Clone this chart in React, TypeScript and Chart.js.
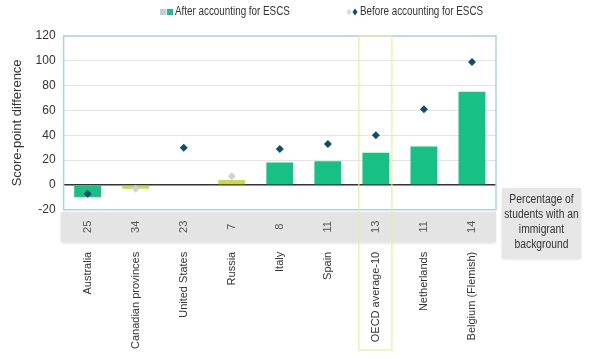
import React, { useEffect, useRef } from "react";
import { Chart, registerables } from "chart.js";

Chart.register(...registerables);

const countries = [
  "Australia",
  "Canadian provinces",
  "United States",
  "Russia",
  "Italy",
  "Spain",
  "OECD average-10",
  "Netherlands",
  "Belgium (Flemish)",
];
const immigrantPct = ["25", "34", "23", "7", "8", "11", "13", "11", "14"];
const afterESCS = [-10, -3, 0, 4, 18, 19, 26, 31, 75];
const afterSignificant = [true, false, true, false, true, true, true, true, true];
const beforeESCS = [-7, -3, 30, 7, 29, 33, 40, 61, 99];
const beforeSignificant = [true, false, true, false, true, true, true, true, true];
const yTicks = [-20, 0, 20, 40, 60, 80, 100, 120];
const highlightCategory = "OECD average-10";
const sideNote = ["Percentage of", "students with an", "immigrant", "background"];

const GREEN = "#17c084";
const LIME = "#c9dc45";
const DARK = "#0d4e6b";
const LIGHT = "#d2d2d2";
const FONT = "'Liberation Sans', Arial, sans-serif";

function condensedText(ctx: any, text: string, x: number, y: number, sx: number) {
  ctx.save();
  ctx.translate(x, y);
  ctx.scale(sx, 1);
  ctx.fillText(text, 0, 0);
  ctx.restore();
}

const decorPlugin = {
  id: "decor",
  afterDatasetsDraw(chart: any) {
    const { ctx, chartArea, scales } = chart;
    const x = scales.x;
    const y = scales.y;
    ctx.save();
    // plot border
    ctx.strokeStyle = "#a9d3e3";
    ctx.lineWidth = 1.5;
    ctx.strokeRect(chartArea.left, chartArea.top, chartArea.right - chartArea.left, chartArea.bottom - chartArea.top);
    // gray band with percentages
    const bandTop = chartArea.bottom + 2;
    const bandH = 30;
    ctx.shadowColor = "rgba(0,0,0,0.12)";
    ctx.shadowBlur = 3;
    ctx.shadowOffsetY = 2;
    ctx.fillStyle = "#e4e4e4";
    ctx.fillRect(chartArea.left - 3, bandTop, chartArea.right - chartArea.left + 3, bandH);
    ctx.shadowColor = "transparent";
    ctx.fillStyle = "#555";
    ctx.font = `11px ${FONT}`;
    ctx.textAlign = "center";
    ctx.textBaseline = "middle";
    immigrantPct.forEach((p, i) => {
      const cx = x.getPixelForValue(i);
      ctx.save();
      ctx.translate(cx, bandTop + bandH / 2);
      ctx.rotate(-Math.PI / 2);
      ctx.fillText(p, 0, 0);
      ctx.restore();
    });
    // side note box
    const boxTop = y.getPixelForValue(0) + 3;
    ctx.shadowColor = "rgba(0,0,0,0.12)";
    ctx.shadowBlur = 3;
    ctx.shadowOffsetY = 2;
    ctx.fillStyle = "#e6e6e6";
    ctx.fillRect(chartArea.right + 6, boxTop, 79, 70);
    ctx.shadowColor = "transparent";
    ctx.fillStyle = "#333";
    ctx.font = `12px ${FONT}`;
    sideNote.forEach((t, i) => {
      condensedText(ctx, t, chartArea.right + 6 + 39.5, boxTop + 12 + i * 15, 0.86);
    });
    // highlight rectangle
    const hi = countries.indexOf(highlightCategory);
    const hc = x.getPixelForValue(hi);
    ctx.strokeStyle = "#e4ef9c";
    ctx.lineWidth = 1.2;
    ctx.strokeRect(hc - 17, chartArea.top, 33, 350 - chartArea.top);
    // legend
    ctx.textAlign = "left";
    ctx.textBaseline = "middle";
    ctx.font = `12px ${FONT}`;
    const ly = 12;
    ctx.fillStyle = "#c3cde0";
    ctx.fillRect(160, ly - 3, 6, 6);
    ctx.fillStyle = GREEN;
    ctx.fillRect(167, ly - 3, 6, 6);
    ctx.fillStyle = "#333";
    condensedText(ctx, "After accounting for ESCS", 175, ly, 0.82);
    const diamond = (cx: number, col: string) => {
      ctx.fillStyle = col;
      ctx.beginPath();
      ctx.moveTo(cx, ly - 3.5);
      ctx.lineTo(cx + 2.5, ly);
      ctx.lineTo(cx, ly + 3.5);
      ctx.lineTo(cx - 2.5, ly);
      ctx.closePath();
      ctx.fill();
    };
    diamond(349, "#dcdcdc");
    diamond(355, DARK);
    ctx.fillStyle = "#333";
    condensedText(ctx, "Before accounting for ESCS", 360, ly, 0.82);
    ctx.restore();
  },
};

export default function App() {
  const ref = useRef<HTMLCanvasElement>(null);
  useEffect(() => {
    document.body.style.margin = "0";
    const chart = new Chart(ref.current!, {
      type: "bar",
      data: {
        labels: countries,
        datasets: [
          {
            type: "line" as const,
            label: "Before accounting for ESCS",
            data: beforeESCS,
            showLine: false,
            pointStyle: "rectRot",
            pointRadius: 4,
            pointBackgroundColor: beforeSignificant.map((s) => (s ? DARK : LIGHT)),
            pointBorderWidth: 0,
            order: 0,
          },
          {
            type: "bar" as const,
            label: "After accounting for ESCS",
            data: afterESCS,
            backgroundColor: afterSignificant.map((s) => (s ? GREEN : LIME)),
            barPercentage: 0.56,
            categoryPercentage: 1,
            order: 1,
          },
        ],
      },
      options: {
        animation: false,
        responsive: false,
        layout: { padding: { top: 36, right: 94, left: 10, bottom: -24 } },
        plugins: { legend: { display: false }, tooltip: { enabled: false } },
        scales: {
          x: {
            grid: { display: false },
            border: { display: false },
            ticks: {
              minRotation: 90,
              maxRotation: 90,
              autoSkip: false,
              padding: 34,
              color: "#333",
              font: { size: 11, family: FONT },
            },
          },
          y: {
            min: -20,
            max: 120,
            afterBuildTicks: (s: any) => {
              s.ticks = yTicks.map((v) => ({ value: v }));
            },
            border: { display: false },
            grid: {
              drawTicks: false,
              color: (c: any) => (c.tick && c.tick.value === 0 ? "#333" : "#e3e3e3"),
              lineWidth: (c: any) => (c.tick && c.tick.value === 0 ? 1.5 : 1),
            },
            ticks: { padding: 8, color: "#333", font: { size: 12, family: FONT } },
            title: {
              display: true,
              text: "Score-point difference",
              color: "#333",
              font: { size: 13, family: FONT },
              padding: { top: 0, bottom: 2 },
            },
          },
        },
      },
      plugins: [decorPlugin],
    });
    return () => chart.destroy();
  }, []);
  return (
    <div style={{ width: 590, height: 359, background: "#fff" }}>
      <canvas ref={ref} width={590} height={359} />
    </div>
  );
}
